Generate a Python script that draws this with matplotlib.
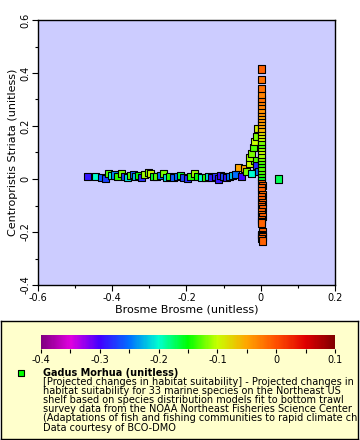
import numpy as np
import matplotlib
matplotlib.use("Agg")
import matplotlib.pyplot as plt
from matplotlib.colors import LinearSegmentedColormap, Normalize
from matplotlib.ticker import MultipleLocator

# Horizontal band of points (Brosme Brosme, Centropristis Striata, Gadus Morhua)
band_x = [-0.466, -0.445, -0.430, -0.419, -0.409, -0.401, -0.393, -0.385, -0.376, -0.368,
          -0.360, -0.352, -0.343, -0.336, -0.328, -0.320, -0.312, -0.303, -0.297, -0.289,
          -0.280, -0.271, -0.262, -0.255, -0.245, -0.236, -0.225, -0.216, -0.207, -0.197,
          -0.188, -0.178, -0.170, -0.160, -0.150, -0.140, -0.132, -0.123, -0.115, -0.108,
          -0.100, -0.092, -0.084, -0.076, -0.068, -0.060, -0.052, -0.045, -0.038, -0.030,
          -0.024, -0.018, -0.012, -0.006]
band_y = [0.010, 0.008, 0.005, 0.002, 0.022, 0.012, 0.015, 0.008, 0.020, 0.010,
          0.004, 0.014, 0.018, 0.009, 0.012, 0.006, 0.016, 0.024, 0.020, 0.010,
          0.008, 0.014, 0.020, 0.005, 0.010, 0.006, 0.008, 0.012, 0.004, 0.002,
          0.010, 0.020, 0.008, 0.004, 0.006, 0.008, 0.004, 0.010, 0.000, 0.012,
          0.010, 0.004, 0.008, 0.012, 0.018, 0.045, 0.010, 0.040, 0.030, 0.060,
          0.020, 0.070, 0.050, 0.030]
band_z = [-0.29, -0.20, -0.26, -0.27, -0.13, -0.20, -0.24, -0.14, -0.12, -0.27,
          -0.21, -0.13, -0.26, -0.22, -0.15, -0.28, -0.11, -0.12, -0.10, -0.16,
          -0.13, -0.25, -0.12, -0.21, -0.14, -0.26, -0.25, -0.16, -0.27, -0.28,
          -0.14, -0.11, -0.15, -0.20, -0.14, -0.21, -0.29, -0.28, -0.29, -0.30,
          -0.27, -0.29, -0.25, -0.22, -0.25, -0.05, -0.30, -0.05, -0.12, -0.10,
          -0.20, -0.13, -0.28, -0.25]

# Vertical column of points near Brosme Brosme = 0
col_x = [0.002, 0.003, 0.004, 0.002, 0.003, 0.004, 0.002, 0.003, 0.004, 0.002,
         0.003, 0.004, 0.002, 0.003, 0.004, 0.002, 0.003, 0.002, 0.004, 0.003,
         0.002, 0.004, 0.003, 0.004,
         0.001, 0.002, 0.003, 0.001, 0.002, 0.003, 0.001, 0.002, 0.003, 0.001,
         0.002, 0.003, 0.001, 0.002, 0.003, 0.001, 0.002, 0.003, 0.002, 0.001,
         0.002, 0.003, 0.002, 0.001, 0.002, 0.003, 0.002, 0.001, 0.002]
col_y = [-0.005, -0.015, -0.025, -0.034, -0.045, -0.057, -0.068, -0.078, -0.087, -0.095,
         -0.104, -0.113, -0.122, -0.133, -0.143, -0.152, -0.160, -0.166, -0.200, -0.208,
         -0.214, -0.219, -0.226, -0.234,
         0.010, 0.022, 0.033, 0.045, 0.058, 0.070, 0.082, 0.094, 0.106, 0.118,
         0.130, 0.142, 0.155, 0.168, 0.180, 0.192, 0.204, 0.216, 0.228, 0.240,
         0.252, 0.264, 0.278, 0.292, 0.305, 0.320, 0.340, 0.375, 0.415]
col_z = [-0.01, -0.01, -0.01, -0.01, -0.01, -0.02, -0.01, -0.01, -0.01, -0.01,
         -0.01, -0.01, -0.01, -0.02, -0.01, -0.01, -0.01, -0.01, -0.01, -0.01,
         -0.01, -0.01, -0.01, -0.01,
         -0.16, -0.14, -0.13, -0.13, -0.14, -0.13, -0.12, -0.11, -0.10, -0.11,
         -0.13, -0.12, -0.10, -0.09, -0.08, -0.06, -0.05, -0.05, -0.04, -0.05,
         -0.04, -0.04, -0.03, -0.03, -0.02, -0.03, -0.02, -0.02, -0.01]

# Knee points left of the column, plus one outlier
knee_x = [-0.030, -0.025, -0.020, -0.016, -0.012, -0.008, 0.048]
knee_y = [0.080, 0.095, 0.120, 0.140, 0.160, 0.190, 0.000]
knee_z = [-0.11, -0.12, -0.13, -0.10, -0.12, -0.09, -0.17]

x = band_x + knee_x + col_x
y = band_y + knee_y + col_y
z = band_z + knee_z + col_z

legend_title = "Gadus Morhua (unitless)"
legend_lines = [
    "[Projected changes in habitat suitability] - Projected changes in",
    "habitat suitability for 33 marine species on the Northeast US",
    "shelf based on species distribution models fit to bottom trawl",
    "survey data from the NOAA Northeast Fisheries Science Center",
    "(Adaptations of fish and fishing communities to rapid climate change)",
    "Data courtesy of BCO-DMO",
]

# Rainbow-style palette
stops = [(0.0, "#800080"), (0.1, "#e000e0"), (0.2, "#4000ff"), (0.3, "#0070ff"),
         (0.4, "#00ffd0"), (0.5, "#00ff00"), (0.6, "#c8ff00"), (0.7, "#ffa500"),
         (0.8, "#ff5000"), (0.9, "#e00000"), (1.0, "#800000")]
cmap = LinearSegmentedColormap.from_list("rainbow2", stops)
norm = Normalize(-0.4, 0.1)

W, H = 360, 440
fig = plt.figure(figsize=(W / 100, H / 100), dpi=100)
fig.patch.set_facecolor("white")

def box(l, t, r, b):
    return [l / W, 1 - b / H, (r - l) / W, (b - t) / H]

ax = fig.add_axes(box(38, 20, 335, 285))
ax.set_facecolor("#ccccff")
ax.scatter(x, y, c=z, cmap=cmap, norm=norm, marker="s", s=26,
           edgecolors="black", linewidths=0.8, zorder=3)
ax.set_xlim(-0.6, 0.2)
ax.set_ylim(-0.4, 0.6)
ax.xaxis.set_major_locator(MultipleLocator(0.2))
ax.xaxis.set_minor_locator(MultipleLocator(0.1))
ax.yaxis.set_major_locator(MultipleLocator(0.2))
ax.yaxis.set_minor_locator(MultipleLocator(0.1))
ax.tick_params(which="major", direction="out", length=4, width=0.8, labelsize=7, pad=1.5)
ax.tick_params(which="minor", direction="out", length=2.5, width=0.8)
ax.xaxis.set_major_formatter(plt.FuncFormatter(lambda v, p: f"{v:g}" if abs(v) > 1e-9 else "0"))
ax.yaxis.set_major_formatter(plt.FuncFormatter(lambda v, p: f"{v:g}" if abs(v) > 1e-9 else "0"))
for lab in ax.get_yticklabels():
    lab.set_rotation(90)
    lab.set_va("center")
ax.set_xlabel("Brosme Brosme (unitless)", fontsize=8, labelpad=1)
ax.set_ylabel("Centropristis Striata (unitless)", fontsize=8, labelpad=2)
for s in ax.spines.values():
    s.set_linewidth(1)

# Legend panel
lax = fig.add_axes(box(1, 321, 358, 439))
lax.set_facecolor("#ffffcc")
lax.set_xticks([])
lax.set_yticks([])
lax.set_xlim(0, 357)
lax.set_ylim(118, 0)
for s in lax.spines.values():
    s.set_linewidth(1)

cax = fig.add_axes(box(41, 335, 335, 349))
sm = plt.cm.ScalarMappable(cmap=cmap, norm=norm)
cb = fig.colorbar(sm, cax=cax, orientation="horizontal")
cb.outline.set_visible(False)
cb.set_ticks([-0.4, -0.3, -0.2, -0.1, 0, 0.1])
cb.ax.set_xticklabels(["-0.4", "-0.3", "-0.2", "-0.1", "0", "0.1"])
cb.ax.xaxis.set_minor_locator(MultipleLocator(0.05))
cb.ax.tick_params(which="major", length=3, width=0.8, labelsize=7, pad=1.5)
cb.ax.tick_params(which="minor", length=3, width=0.8)

lax.scatter([20], [52], marker="s", s=22, c="#00ff00", edgecolors="black", linewidths=0.8)
lax.text(42, 52, legend_title, fontsize=7, fontweight="bold", va="center", ha="left")
for i, line in enumerate(legend_lines):
    t = lax.text(42, 61 + 9.1 * i, line, fontsize=7, va="center", ha="left")
    t.set_clip_on(True)

fig.savefig("out.png", dpi=100)
